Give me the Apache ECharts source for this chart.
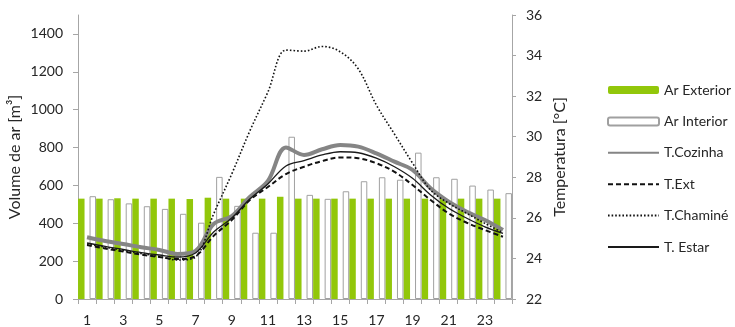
<!DOCTYPE html>
<html>
<head>
<meta charset="utf-8">
<script src="https://cdn.jsdelivr.net/npm/echarts@6/dist/echarts.min.js"></script>
<style>html,body{margin:0;padding:0;background:#fff}#c{width:735px;height:327px}</style>
</head>
<body>
<div id="c"></div>
<script>
var hours = ['1','2','3','4','5','6','7','8','9','10','11','12','13','14','15','16','17','18','19','20','21','22','23','24'];
var arExterior = [530,530,532,530,530,530,528,535,530,530,530,540,530,530,530,530,530,530,530,530,530,530,530,530];
var arInterior = [543,527,505,490,476,450,403,645,492,350,350,857,550,529,569,622,643,630,773,643,635,599,578,559];
var tCozinha = [25.04,24.86,24.71,24.55,24.42,24.22,24.37,25.70,26.09,27.03,27.82,29.47,29.10,29.38,29.59,29.51,29.18,28.77,28.36,27.46,26.80,26.30,25.89,25.40];
var tExt = [24.66,24.49,24.34,24.19,24.07,23.97,24.12,25.11,25.89,26.88,27.52,28.16,28.52,28.80,28.98,28.94,28.69,28.27,27.62,26.88,26.22,25.76,25.40,25.07];
var tChamine = [24.71,24.56,24.39,24.24,24.09,23.92,24.07,26.19,28.16,30.28,32.20,34.27,34.22,34.45,34.19,33.34,31.56,30.13,28.70,27.37,26.72,26.22,25.73,25.27];
var tEstar = [24.76,24.59,24.44,24.29,24.17,24.07,24.27,25.30,25.99,26.93,27.67,28.56,28.82,29.10,29.26,29.21,28.94,28.52,27.95,27.13,26.47,25.98,25.56,25.24];

var FONT = 'Lato';
var TXT = '#262626';
var AX = '#a6a6a6';
var noSym = {opacity: 0};
var chart = echarts.init(document.getElementById('c'), null, {renderer: 'canvas'});
chart.setOption({
  animation: false,
  textStyle: {fontFamily: FONT},
  grid: {left: 78, right: 223, top: 15, bottom: 28, containLabel: false, outerBoundsMode: 'none'},
  legend: {
    orient: 'vertical', left: 607, top: 83, padding: 0,
    itemWidth: 51, itemHeight: 8, itemGap: 17.4,
    textStyle: {fontFamily: FONT, fontSize: 14, color: TXT},
    data: [
      {name: 'Ar Exterior'},
      {name: 'Ar Interior'},
      {name: 'T.Cozinha', itemStyle: noSym},
      {name: 'T.Ext', itemStyle: noSym},
      {name: 'T.Chaminé', itemStyle: noSym},
      {name: 'T. Estar', itemStyle: noSym}
    ]
  },
  xAxis: {
    type: 'category', data: hours, boundaryGap: true,
    axisLine: {lineStyle: {color: AX, width: 1}},
    axisTick: {show: true, interval: 0, length: 5, lineStyle: {color: AX}},
    axisLabel: {interval: 1, margin: 14, fontSize: 14, color: TXT, fontFamily: FONT},
    splitLine: {show: false}
  },
  yAxis: [{
    type: 'value', min: 0, max: 1500, interval: 200,
    name: 'Volume de ar [m³]', nameLocation: 'middle', nameGap: 55, nameMoveOverlap: false,
    nameTextStyle: {fontSize: 16, color: TXT, fontFamily: FONT},
    axisLine: {show: true, lineStyle: {color: AX}},
    axisTick: {show: true, length: 5, lineStyle: {color: AX}},
    axisLabel: {showMaxLabel: false, margin: 15, fontSize: 14, color: TXT, fontFamily: FONT,
      formatter: function (v) { return String(v); }},
    splitLine: {show: false}
  }, {
    type: 'value', min: 22, max: 36, interval: 2, position: 'right',
    name: 'Temperatura [°C]', nameLocation: 'middle', nameGap: 40, nameMoveOverlap: false,
    nameTextStyle: {fontSize: 16, color: TXT, fontFamily: FONT},
    axisLine: {show: true, lineStyle: {color: AX}},
    axisTick: {show: true, length: 4, lineStyle: {color: AX}},
    axisLabel: {margin: 14, fontSize: 14, color: TXT, fontFamily: FONT},
    splitLine: {show: false}
  }],
  series: [{
    name: 'Ar Exterior', type: 'bar', yAxisIndex: 0, data: arExterior,
    barWidth: 6.5, barGap: '77%',
    itemStyle: {color: '#92c70a'}
  }, {
    name: 'Ar Interior', type: 'bar', yAxisIndex: 0, data: arInterior,
    barWidth: 6.5,
    itemStyle: {color: '#ffffff', borderColor: '#a0a0a0', borderWidth: 1}
  }, {
    name: 'T.Cozinha', type: 'line', yAxisIndex: 1, data: tCozinha,
    smooth: 0.35, symbol: 'none', z: 3,
    lineStyle: {color: '#858585', width: 4},
    itemStyle: {color: '#858585'}
  }, {
    name: 'T.Ext', type: 'line', yAxisIndex: 1, data: tExt,
    smooth: 0.35, symbol: 'none', z: 4,
    lineStyle: {color: '#111111', width: 2, type: [5, 3]},
    itemStyle: {color: '#111111'}
  }, {
    name: 'T.Chaminé', type: 'line', yAxisIndex: 1, data: tChamine,
    smooth: 0.35, symbol: 'none', z: 4,
    lineStyle: {color: '#111111', width: 1.6, type: [1.6, 2]},
    itemStyle: {color: '#111111'}
  }, {
    name: 'T. Estar', type: 'line', yAxisIndex: 1, data: tEstar,
    smooth: 0.35, symbol: 'none', z: 4,
    lineStyle: {color: '#1a1a1a', width: 1.3},
    itemStyle: {color: '#1a1a1a'}
  }]
});
</script>
</body>
</html>
